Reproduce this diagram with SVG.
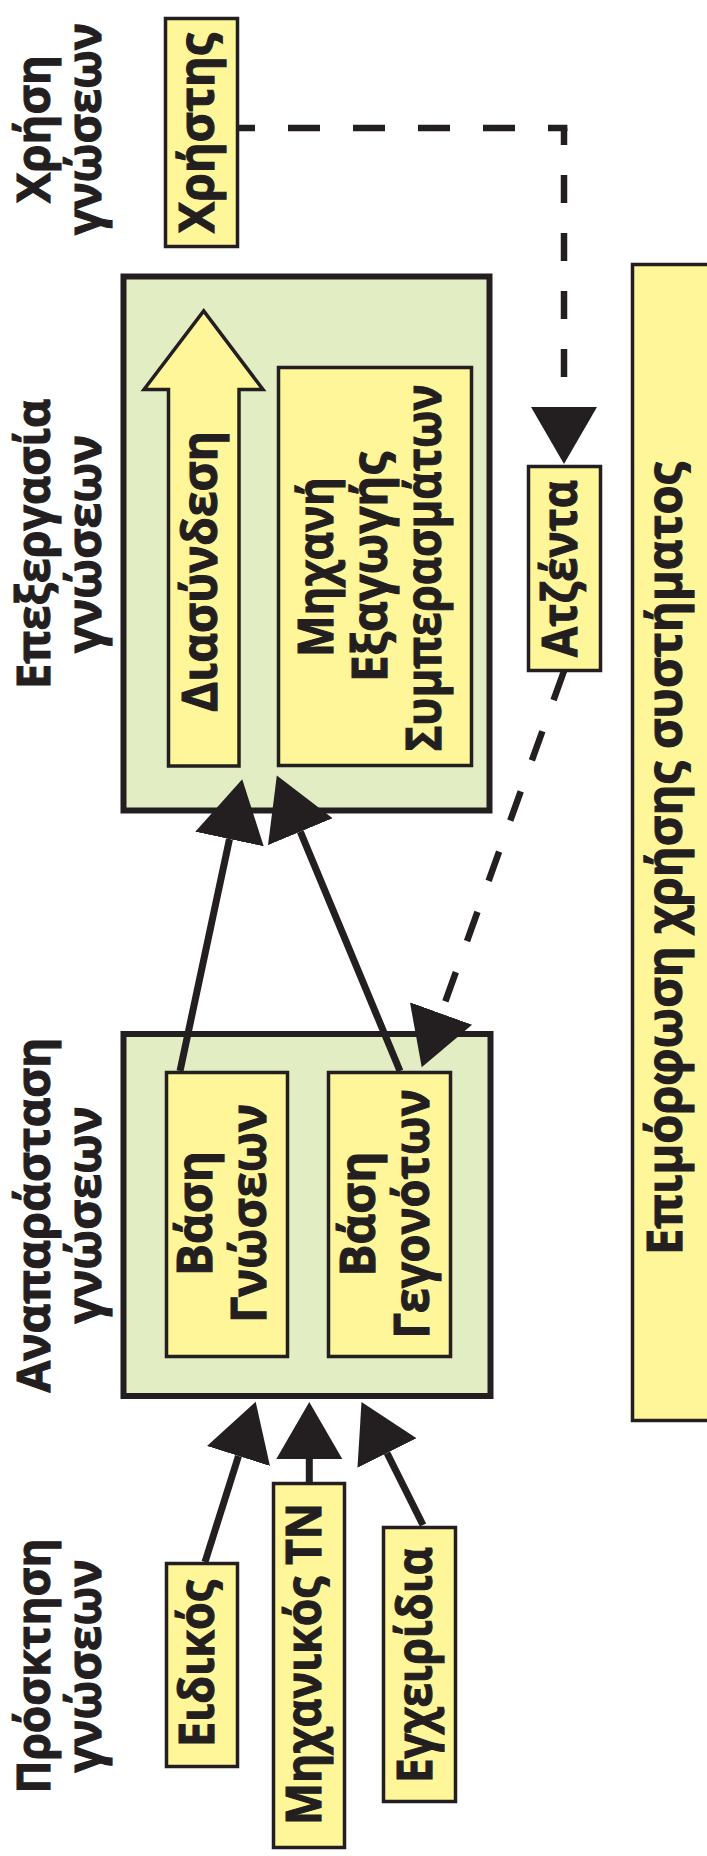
<svg xmlns="http://www.w3.org/2000/svg" width="707" height="1856" viewBox="0 0 707 1856">
<style>
text{font-family:"Open Sans","Noto Sans","DejaVu Sans",sans-serif;font-weight:700;font-size:48px;fill:#231F20;stroke:#231F20;stroke-width:1.1;text-anchor:middle}
.col{font-size:46px}
.outer{fill:#E2EDC3;stroke:#231F20;stroke-width:6}
.box{fill:#FFF599;stroke:#231F20;stroke-width:3.5}
.solid{fill:none;stroke:#231F20;stroke-width:7}
.dash{fill:none;stroke:#231F20;stroke-width:6.5}
</style>
<defs>
<marker id="ah" markerUnits="userSpaceOnUse" viewBox="0 -34 58 68" markerWidth="58" markerHeight="68" refX="0" refY="0" orient="auto"><path d="M0,-33 L57,0 L0,33 Z" fill="#231F20"/></marker>
<marker id="ahL" markerUnits="userSpaceOnUse" viewBox="0 -36 62 72" markerWidth="62" markerHeight="72" refX="0" refY="0" orient="auto"><path d="M0,-35 L61,0 L0,35 Z" fill="#231F20"/></marker>
</defs>
<rect width="707" height="1856" fill="#FFFFFF"/>
<g id="labels">
<text class="col" transform="translate(50,129) rotate(-90)" textLength="148" lengthAdjust="spacingAndGlyphs">Χρήση</text>
<text class="col" transform="translate(101,129) rotate(-90)" textLength="212" lengthAdjust="spacingAndGlyphs">γνώσεων</text>
<text class="col" transform="translate(50,544) rotate(-90)" textLength="290" lengthAdjust="spacingAndGlyphs">Επεξεργασία</text>
<text class="col" transform="translate(101,544) rotate(-90)" textLength="218" lengthAdjust="spacingAndGlyphs">γνώσεων</text>
<text class="col" transform="translate(50,1215) rotate(-90)" textLength="355" lengthAdjust="spacingAndGlyphs">Αναπαράσταση</text>
<text class="col" transform="translate(101,1215) rotate(-90)" textLength="217" lengthAdjust="spacingAndGlyphs">γνώσεων</text>
<text class="col" transform="translate(50,1666) rotate(-90)" textLength="255" lengthAdjust="spacingAndGlyphs">Πρόσκτηση</text>
<text class="col" transform="translate(101,1666) rotate(-90)" textLength="213" lengthAdjust="spacingAndGlyphs">γνώσεων</text>
</g>
<g id="processing">
<rect class="outer" x="123.5" y="276.5" width="366" height="534"/>
</g>
<g id="representation">
<rect class="outer" x="123.5" y="1034" width="367" height="362"/>
</g>
<g id="user">
<rect class="box" x="165.5" y="18.5" width="72" height="228"/>
<text transform="translate(213.5,133) rotate(-90)" textLength="200" lengthAdjust="spacingAndGlyphs">Χρήστης</text>
</g>
<g id="interface">
<polygon class="box" points="168.5,766 168.5,389.5 144,389.5 203.7,311 263,389.5 239,389.5 239,766"/>
<text transform="translate(217,571.5) rotate(-90)" textLength="281" lengthAdjust="spacingAndGlyphs">Διασύνδεση</text>
</g>
<g id="engine">
<rect class="box" x="278.5" y="367.5" width="193" height="398"/>
<text transform="translate(333,567) rotate(-90)" textLength="180" lengthAdjust="spacingAndGlyphs">Μηχανή</text>
<text transform="translate(387,567) rotate(-90)" textLength="230" lengthAdjust="spacingAndGlyphs">Εξαγωγής</text>
<text transform="translate(441,568) rotate(-90)" textLength="367" lengthAdjust="spacingAndGlyphs">Συμπερασμάτων</text>
</g>
<g id="agenda">
<rect class="box" x="528.5" y="466.5" width="72" height="204"/>
<text transform="translate(577,568.5) rotate(-90)" textLength="177" lengthAdjust="spacingAndGlyphs">Ατζέντα</text>
</g>
<g id="training">
<rect class="box" x="632.5" y="264.5" width="90" height="1156"/>
<text transform="translate(682,858.5) rotate(-90)" textLength="793" lengthAdjust="spacingAndGlyphs">Επιμόρφωση χρήσης συστήματος</text>
</g>
<g id="knowledge-base">
<rect class="box" x="166.5" y="1072.5" width="121" height="284"/>
<text transform="translate(212,1213.5) rotate(-90)" textLength="125" lengthAdjust="spacingAndGlyphs">Βάση</text>
<text transform="translate(266,1213.5) rotate(-90)" textLength="219" lengthAdjust="spacingAndGlyphs">Γνώσεων</text>
</g>
<g id="fact-base">
<rect class="box" x="328.5" y="1072.5" width="122" height="284"/>
<text transform="translate(374.5,1214) rotate(-90)" textLength="125" lengthAdjust="spacingAndGlyphs">Βάση</text>
<text transform="translate(428.5,1214) rotate(-90)" textLength="249" lengthAdjust="spacingAndGlyphs">Γεγονότων</text>
</g>
<g id="expert">
<rect class="box" x="166.5" y="1563.5" width="71" height="203"/>
<text transform="translate(214,1663.5) rotate(-90)" textLength="167" lengthAdjust="spacingAndGlyphs">Ειδικός</text>
</g>
<g id="engineer">
<rect class="box" x="273.5" y="1483.5" width="71" height="364"/>
<text transform="translate(321,1664) rotate(-90)" textLength="322" lengthAdjust="spacingAndGlyphs">Μηχανικός ΤΝ</text>
</g>
<g id="manuals">
<rect class="box" x="383.5" y="1527.5" width="72" height="274"/>
<text transform="translate(431.5,1665) rotate(-90)" textLength="236" lengthAdjust="spacingAndGlyphs">Εγχειρίδια</text>
</g>
<g id="connectors">
<path class="dash" d="M239,128 H567.4" stroke-dasharray="32 33" stroke-dashoffset="16"/>
<path class="dash" d="M564,128 V407" stroke-dasharray="28 30" stroke-dashoffset="11" marker-end="url(#ah)"/>
<path class="dash" d="M564,671 L441,1013.5" stroke-dasharray="31 33" marker-end="url(#ah)"/>
<path class="solid" d="M180,1071 L229.5,839" marker-end="url(#ahL)"/>
<path class="solid" d="M400,1071 L300.3,831.7" marker-end="url(#ahL)"/>
<path class="solid" d="M205,1562 L238.5,1456" marker-end="url(#ah)"/>
<path class="solid" d="M309.3,1482 L309.3,1459" marker-end="url(#ah)"/>
<path class="solid" d="M423,1525 L387,1453" marker-end="url(#ah)"/>
</g>
</svg>
